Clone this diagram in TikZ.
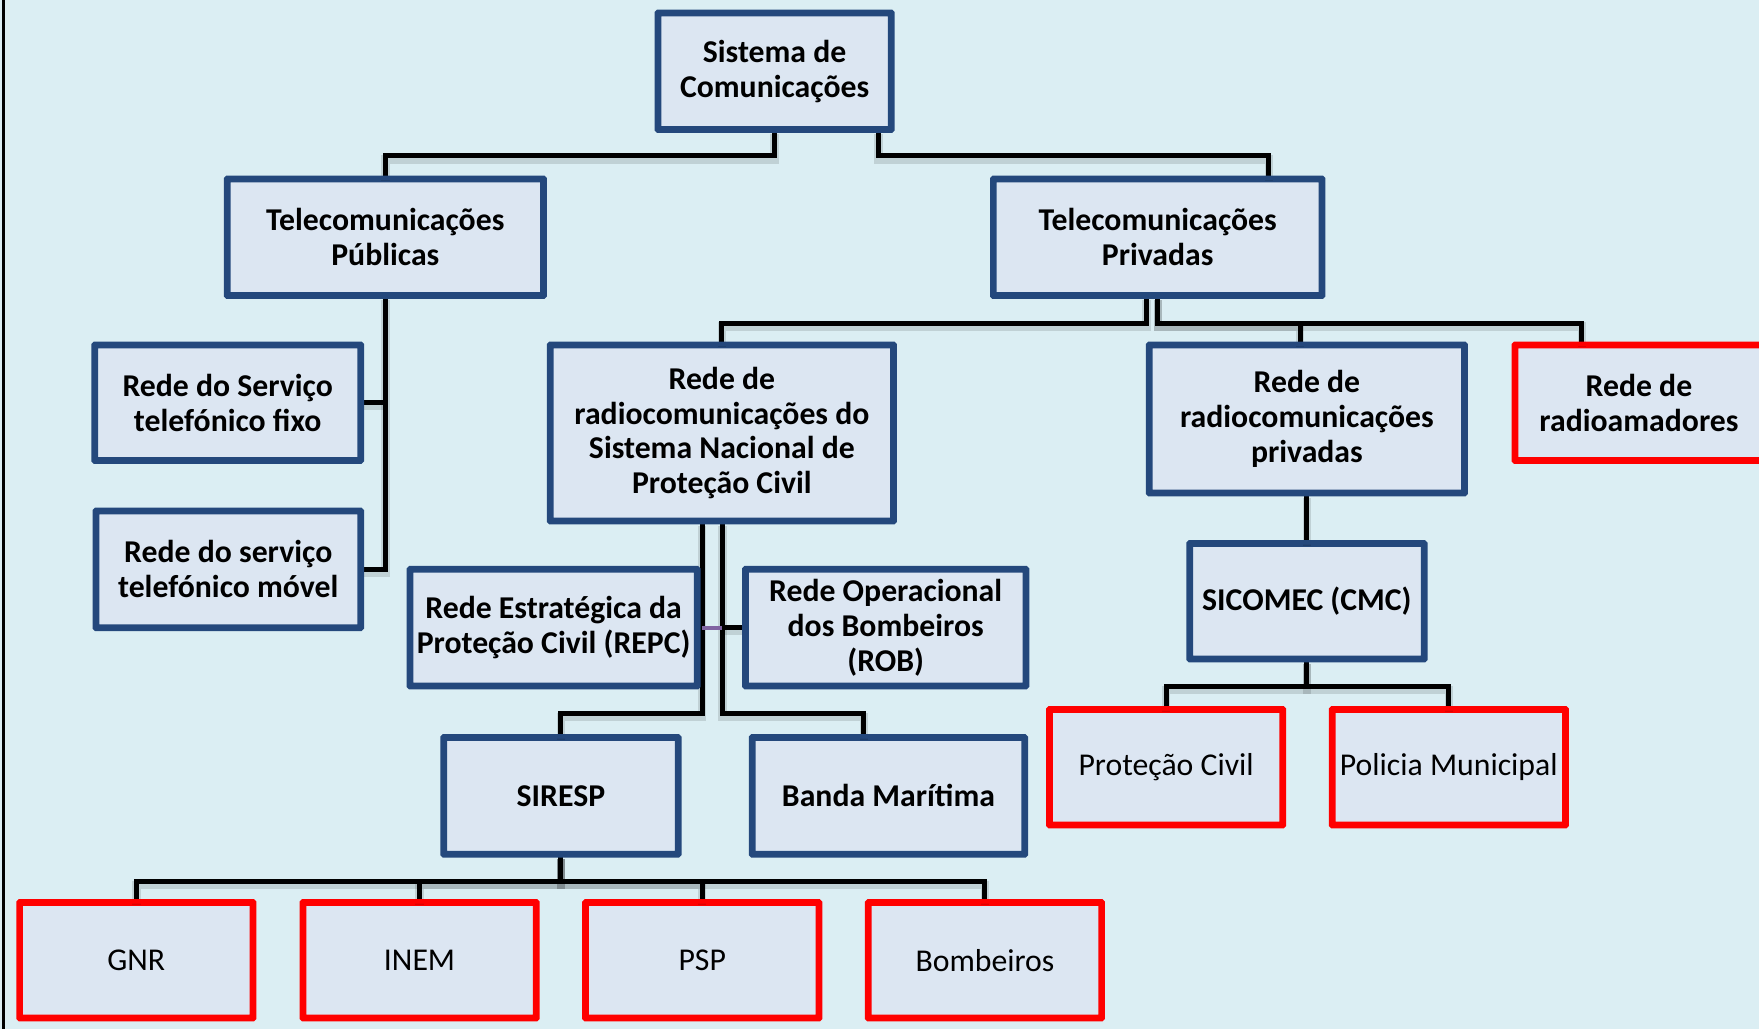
\documentclass[tikz,border=0pt]{standalone}
\usepackage{fontspec}
\setmainfont{Carlito}
\usetikzlibrary{calc}
\definecolor{bg}{RGB}{219,238,243}
\definecolor{boxfill}{RGB}{220,230,242}
\definecolor{boxblue}{RGB}{36,72,124}
\definecolor{redb}{RGB}{255,0,0}
\definecolor{repcpurple}{RGB}{128,100,162}
\begin{document}
\begin{tikzpicture}[x=1pt,y=-1pt,
  box/.style={draw, fill=boxfill, line width=4pt, inner sep=0pt, align=center, rounded corners=1pt},
  bluebox/.style={box, draw=boxblue, font=\fontsize{28.3}{31}\selectfont\bfseries},
  redbox/.style={box, draw=redb, font=\fontsize{28.3}{31}\selectfont},
  redboldbox/.style={box, draw=redb, font=\fontsize{28.3}{31}\selectfont\bfseries},
  sz/.style 2 args={minimum width=#1pt, minimum height=#2pt},
  conn/.style={line width=4.5pt, draw=black,
    preaction={draw=black, draw opacity=0.12, line width=7.5pt, transform canvas={yshift=-3pt}}},
  purpleconn/.style={line width=3.5pt, draw=repcpurple},
]
\useasboundingbox (0,0) rectangle (1568,917);
\fill[bg] (0,0) rectangle (1568,917);
\draw[line width=3pt] (3,0) -- (3,917);

% boxes
\node[bluebox, sz={206}{102}] (sis) at (690.5,63.5) {Sistema de\\Comunicações};
\node[bluebox, sz={280}{102}] (pub) at (343.5,211.5) {Telecomunicações\\Públicas};
\node[bluebox, sz={291}{102}] (pri) at (1032,211.5) {Telecomunicações\\Privadas};
\node[bluebox, sz={235}{101}] (fixo) at (203,359) {Rede do Serviço\\telefónico fixo};
\node[bluebox, sz={234}{102}] (movel) at (203.5,507.5) {Rede do serviço\\telefónico móvel};
\node[bluebox, sz={304}{155}] (snpc) at (643.5,386) {Rede de\\radiocomunicações do\\Sistema Nacional de\\Proteção Civil};
\node[bluebox, sz={254}{102}] (repc) at (493.5,559.5) {Rede Estratégica da\\Proteção Civil (REPC)};
\node[bluebox, sz={248}{102}] (rob) at (789.5,559.5) {Rede Operacional\\dos Bombeiros\\(ROB)};
\node[bluebox, sz={207}{102}] (siresp) at (500,709.5) {SIRESP};
\node[bluebox, sz={241}{102}] (banda) at (792,709.5) {Banda Marítima};
\node[redbox, sz={206}{101}] (gnr) at (121.5,856) {GNR};
\node[redbox, sz={206}{101}] (inem) at (374,856) {INEM};
\node[redbox, sz={206}{101}] (psp) at (626,856) {PSP};
\node[redbox, sz={206}{101}] (bomb) at (878,856) {Bombeiros};
\node[bluebox, sz={279}{130}] (rpriv) at (1165,373.5) {Rede de\\radiocomunicações\\privadas};
\node[redboldbox, sz={219}{101}] (radio) at (1461,359) {Rede de\\radioamadores};
\node[bluebox, sz={207}{101}] (sicomec) at (1165,536) {SICOMEC (CMC)};
\node[redbox, sz={206}{101}] (pc) at (1039.5,684) {Proteção Civil};
\node[redbox, sz={206}{101}] (pm) at (1291.5,684) {Policia Municipal};

% connectors
\draw[conn] (sis.south) -- ++(0,22.5) -| (pub.north);
\draw[conn] ($(sis.south)+(92.5,0)$) -- ++(0,22.5) -| ($(pri.north)+(99,0)$);
\draw[conn] (pub.south) |- (movel.east);
\draw[conn] (fixo.east) -- (fixo.east -| pub.south);
\draw[conn] ($(pri.south)+(-10,0)$) -- ++(0,23.5) -| (snpc.north);
\draw[conn] (pri.south) -- ++(0,23.5) -| ($(rpriv.north)+(-6,0)$);
\draw[conn] (pri.south) -- ++(0,23.5) -| ($(radio.north)+(-51,0)$);
\coordinate (lv) at ($(snpc.south)+(-17.5,0)$);
\coordinate (rv) at ($(snpc.south)+(0.5,0)$);
\draw[conn] (lv) -- ++(0,170.5) -| (siresp.north);
\draw[conn] (rv) -- ++(0,170.5) -| ($(banda.north)+(-22,0)$);
\draw[purpleconn] (repc.east -| lv) -- (repc.east -| rv);
\draw[conn] (repc.east -| rv) -- (rob.west);
\foreach \n in {gnr,inem,psp,bomb}
  \draw[conn] (siresp.south) -- ++(0,23.5) -| (\n.north);
\draw[conn] (rpriv.south) -- (sicomec.north);
\draw[conn] (sicomec.south) -- ++(0,23.5) -| (pc.north);
\draw[conn] (sicomec.south) -- ++(0,23.5) -| (pm.north);

% redraw box frames on top so connector ends and shadows stay beneath them
\foreach \n in {sis,pub,pri,fixo,movel,snpc,repc,rob,siresp,banda,rpriv,sicomec}
  \draw[boxblue, line width=4pt, rounded corners=1pt] (\n.north west) rectangle (\n.south east);
\foreach \n in {gnr,inem,psp,bomb,radio,pc,pm}
  \draw[redb, line width=4pt, rounded corners=1pt] (\n.north west) rectangle (\n.south east);
\end{tikzpicture}
\end{document}
